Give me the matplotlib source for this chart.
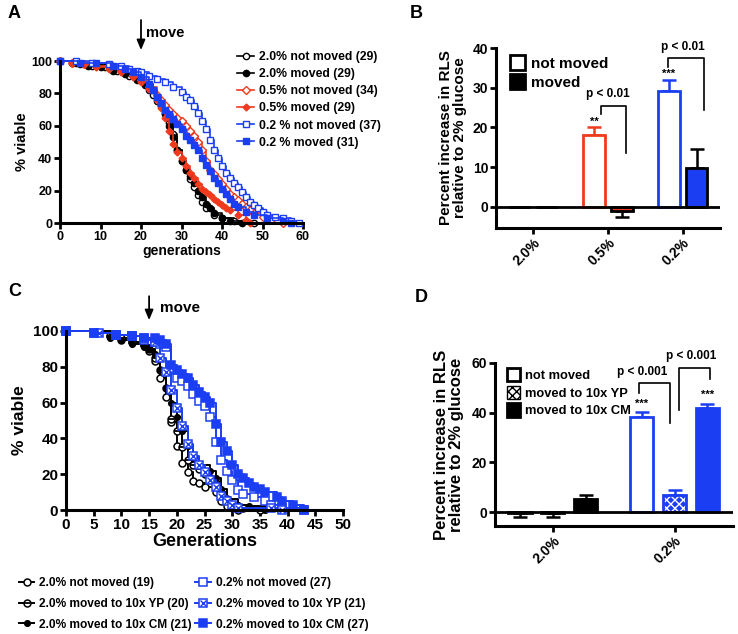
import matplotlib
matplotlib.use("Agg")
import matplotlib.pyplot as plt
from matplotlib.patches import Patch

plt.rcParams['font.family'] = ['Liberation Sans', 'DejaVu Sans']
plt.rcParams['font.weight'] = 'bold'
plt.rcParams['hatch.linewidth'] = 1.0

RED = '#F03A1E'
BLUE = '#1B3EF2'

# ---- panel A: survival, % viable vs generations ----
a_gen_20nm = [0, 3, 5, 8, 11, 14, 17, 19, 21, 22, 23, 24, 25, 26, 27, 28, 29, 30, 31, 32, 33, 34, 35, 36, 38, 40, 43, 48]
a_via_20nm = [100, 99, 98, 97, 96, 94, 91, 88, 85, 82, 79, 75, 72, 68, 62, 55, 45, 38, 33, 27, 22, 17, 13, 9, 5, 3, 1, 0]
a_gen_20m = [0, 4, 7, 10, 13, 16, 19, 21, 23, 24, 25, 26, 27, 28, 29, 30, 31, 32, 33, 34, 35, 36, 37, 38, 40, 42, 45]
a_via_20m = [100, 99, 97, 96, 94, 92, 89, 86, 82, 78, 73, 67, 60, 53, 45, 38, 33, 29, 25, 20, 16, 12, 9, 6, 3, 1, 0]
a_gen_05nm = [0, 3, 6, 9, 12, 15, 18, 20, 22, 24, 25, 26, 27, 28, 29, 30, 31, 32, 33, 34, 35, 36, 37, 38, 39, 40, 41, 42, 43, 44, 45, 46, 47, 48, 50, 52, 55]
a_via_05nm = [100, 99, 98, 97, 96, 94, 91, 88, 84, 79, 76, 73, 70, 67, 65, 63, 60, 57, 54, 50, 45, 38, 33, 30, 27, 24, 21, 18, 16, 14, 12, 10, 8, 6, 4, 2, 0]
a_gen_05m = [0, 3, 6, 9, 12, 15, 18, 20, 22, 24, 25, 26, 27, 28, 29, 30, 31, 32, 33, 34, 35, 36, 37, 38, 39, 40, 41, 42, 44, 46, 47]
a_via_05m = [100, 99, 98, 96, 95, 93, 90, 87, 83, 76, 71, 65, 57, 49, 44, 40, 35, 31, 28, 24, 21, 19, 17, 15, 13, 11, 9, 8, 5, 2, 0]
a_gen_02nm = [0, 4, 8, 12, 15, 17, 19, 20, 22, 24, 26, 28, 30, 31, 32, 33, 34, 35, 36, 37, 38, 39, 40, 41, 42, 43, 44, 45, 46, 47, 48, 49, 50, 51, 53, 55, 57, 59]
a_via_02nm = [100, 100, 99, 98, 97, 95, 94, 93, 91, 89, 87, 84, 81, 78, 76, 72, 68, 63, 58, 51, 45, 40, 35, 31, 28, 25, 22, 19, 16, 13, 11, 9, 7, 5, 4, 3, 1, 0]
a_gen_02m = [0, 5, 9, 13, 16, 18, 20, 22, 23, 24, 25, 26, 27, 28, 29, 30, 31, 32, 33, 34, 35, 36, 37, 38, 39, 40, 41, 42, 43, 44, 46, 48, 51, 55, 57]
a_via_02m = [100, 99, 99, 97, 95, 93, 90, 86, 82, 78, 74, 70, 67, 64, 61, 58, 54, 51, 48, 45, 40, 36, 32, 28, 25, 21, 18, 15, 12, 10, 7, 5, 3, 1, 0]

# ---- panel B: percent increase in RLS ----
b_groups = ['2.0%', '0.5%', '0.2%']
b_notmoved = [0, 18, 29.2]
b_notmoved_err = [0, 2, 2.7]
b_moved = [0, -1, 9.8]
b_moved_err = [0, 1.5, 4.8]
b_colors = ['black', RED, BLUE]

# ---- panel C: survival after moving ----
c_gen_20nm = [0, 8, 10, 12, 14, 15, 16, 17, 18, 19, 20, 21, 22, 23, 24, 25, 27, 28, 29, 31]
c_via_20nm = [100, 97, 95, 94, 92, 89, 83, 74, 63, 49, 36, 26, 21, 16, 15, 13, 10, 5, 2, 0]
c_gen_20yp = [0, 8, 10, 12, 14, 15, 16, 17, 18, 19, 20, 21, 22, 23, 24, 25, 26, 27, 28, 29, 30, 32, 35]
c_via_20yp = [100, 97, 96, 94, 92, 90, 85, 78, 68, 51, 44, 35, 28, 25, 23, 20, 18, 15, 10, 6, 3, 1, 0]
c_gen_20cm = [0, 8, 10, 12, 14, 15, 16, 17, 18, 19, 20, 21, 22, 23, 24, 26, 27, 28, 29, 31, 33, 36]
c_via_20cm = [100, 96, 95, 93, 91, 90, 87, 78, 68, 60, 52, 44, 36, 29, 25, 22, 18, 12, 6, 3, 2, 0]
c_gen_02nm = [0, 5, 9, 12, 14, 16, 17, 18, 19, 20, 21, 22, 23, 24, 25, 26, 27, 28, 29, 30, 31, 32, 34, 36, 37, 39, 43]
c_via_02nm = [100, 99, 98, 97, 95, 94, 93, 91, 79, 74, 72, 69, 65, 61, 58, 52, 38, 28, 22, 17, 11, 9, 7, 5, 3, 1, 0]
c_gen_02yp = [0, 6, 9, 12, 14, 16, 17, 18, 19, 20, 21, 22, 23, 24, 25, 26, 27, 28, 29, 30, 31, 37, 39]
c_via_02yp = [100, 99, 98, 97, 96, 94, 85, 77, 67, 57, 47, 37, 30, 25, 21, 17, 13, 8, 5, 3, 1, 1, 0]
c_gen_02cm = [0, 5, 9, 12, 14, 16, 17, 18, 19, 20, 21, 22, 23, 24, 25, 26, 27, 28, 29, 30, 31, 32, 33, 34, 35, 36, 38, 39, 41, 43]
c_via_02cm = [100, 99, 98, 97, 96, 96, 95, 93, 81, 78, 76, 74, 70, 66, 63, 60, 48, 38, 33, 25, 20, 18, 15, 13, 12, 10, 7, 5, 3, 0]

# ---- panel D ----
d_groups = ['2.0%', '0.2%']
d_notmoved = [-0.4, 38.3]
d_notmoved_err = [1.6, 1.8]
d_yp = [-0.4, 6.8]
d_yp_err = [1.6, 2.0]
d_cm = [5.2, 41.9]
d_cm_err = [1.7, 1.6]
d_colors = ['black', BLUE]


def prism_axes(ax, tick_size):
    for s in ['top', 'right']:
        ax.spines[s].set_visible(False)
    for s in ['left', 'bottom']:
        ax.spines[s].set_linewidth(2.2)
    ax.tick_params(width=2, length=4, labelsize=tick_size, pad=1.5)
    for lab in ax.get_xticklabels() + ax.get_yticklabels():
        lab.set_fontweight('bold')


fig = plt.figure(figsize=(7.38, 6.34), dpi=100)


def fx(px):
    return px / 738.0


def fy(py):
    return 1 - py / 634.0


# ================= A =================
axA = fig.add_axes([fx(60), fy(223), fx(243), 162 / 634.0])
kw = dict(drawstyle='steps-post', lw=1.2, ms=4.5, clip_on=False, mew=1.0)
lA = []
lA.append(axA.plot(a_gen_20nm, a_via_20nm, color='black', marker='o', mfc='white', mec='black', label='2.0% not moved (29)', **kw)[0])
lA.append(axA.plot(a_gen_20m, a_via_20m, color='black', marker='o', mfc='black', mec='black', label='2.0% moved (29)', **kw)[0])
lA.append(axA.plot(a_gen_05nm, a_via_05nm, color=RED, marker='D', mfc='white', mec=RED, label='0.5% not moved (34)', **dict(kw, ms=4))[0])
lA.append(axA.plot(a_gen_05m, a_via_05m, color=RED, marker='D', mfc=RED, mec=RED, label='0.5% moved (29)', **dict(kw, ms=3.5))[0])
lA.append(axA.plot(a_gen_02nm, a_via_02nm, color=BLUE, marker='s', mfc='white', mec=BLUE, label='0.2 % not moved (37)', **dict(kw, ms=5))[0])
lA.append(axA.plot(a_gen_02m, a_via_02m, color=BLUE, marker='s', mfc=BLUE, mec=BLUE, label='0.2 % moved (31)', **dict(kw, ms=5))[0])
axA.set_xlim(0, 60)
axA.set_ylim(0, 100)
axA.set_xticks(range(0, 61, 10))
axA.set_yticks(range(0, 101, 20))
prism_axes(axA, 9)
axA.set_xlabel('generations', fontsize=10, fontweight='bold', labelpad=1)
axA.set_ylabel('% viable', fontsize=10.5, fontweight='bold', labelpad=2)
axA.annotate('', xy=(20, 105), xytext=(20, 127), xycoords='data',
             arrowprops=dict(arrowstyle='-|>,head_width=0.25,head_length=0.6', color='black', lw=1.3),
             annotation_clip=False)
axA.text(21.3, 117, 'move', fontsize=10.5, fontweight='bold', va='center', ha='left')
fig.legend(handles=lA, loc='upper left', bbox_to_anchor=(fx(226), fy(40)), frameon=False,
           handlelength=1.4, handletextpad=0.4, labelspacing=0.42,
           prop={'weight': 'bold', 'size': 8.8})

# ================= B =================
axB = fig.add_axes([fx(496), fy(228), fx(224), 180 / 634.0])
xs = range(len(b_groups))
w, off = 0.29, 0.187
for i in xs:
    c = b_colors[i]
    axB.bar(i - off, b_notmoved[i], w, facecolor='white', edgecolor=c, lw=2, zorder=3)
    if b_notmoved_err[i] > 0:
        axB.errorbar(i - off, b_notmoved[i], yerr=[[0], [b_notmoved_err[i]]], fmt='none',
                     ecolor=c, elinewidth=1.8, capsize=5, capthick=1.8, zorder=2)
    axB.bar(i + off, b_moved[i], w, facecolor=c, edgecolor='black', lw=2, zorder=3)
    if b_moved_err[i] > 0:
        lo, hi = ([b_moved_err[i]], [0]) if b_moved[i] < 0 else ([0], [b_moved_err[i]])
        axB.errorbar(i + off, b_moved[i], yerr=[lo, hi], fmt='none',
                     ecolor='black', elinewidth=1.8, capsize=5, capthick=1.8, zorder=2)
axB.axhline(0, color='black', lw=2, zorder=4)
axB.set_xlim(-0.5, 2.5)
axB.set_ylim(-5.3, 40)
axB.set_yticks(range(0, 41, 10))
axB.set_xticks(list(xs))
axB.set_xticklabels(b_groups, rotation=45, ha='right', rotation_mode='anchor')
prism_axes(axB, 10)
axB.set_ylabel('Percent increase in RLS\nrelative to 2% glucose', fontsize=11, fontweight='bold', labelpad=4, linespacing=1.0)
# significance
axB.text(1 - off, 21.5, '**', ha='center', va='center', fontsize=8, fontweight='bold')
axB.text(2 - off, 33.5, '***', ha='center', va='center', fontsize=8, fontweight='bold')
axB.plot([1 - 0.1, 1 - 0.1, 1 + 0.24, 1 + 0.24], [23.5, 25.4, 25.4, 13.6], color='black', lw=1.2)
axB.text(1.0, 26.8, 'p < 0.01', ha='center', va='bottom', fontsize=8.5, fontweight='bold')
axB.plot([2 - 0.19, 2 - 0.19, 2 + 0.28, 2 + 0.28], [35.2, 37.4, 37.4, 24.4], color='black', lw=1.2)
axB.text(2.0, 38.8, 'p < 0.01', ha='center', va='bottom', fontsize=8.5, fontweight='bold')
hB = [Patch(facecolor='white', edgecolor='black', lw=2, label='not moved'),
      Patch(facecolor='black', edgecolor='black', lw=2, label='moved')]
axB.legend(handles=hB, loc='upper left', bbox_to_anchor=(0.0, 1.04), frameon=False,
           handlelength=1.0, handleheight=1.2, handletextpad=0.4, labelspacing=0.2,
           prop={'weight': 'bold', 'size': 11})

# ================= C =================
axC = fig.add_axes([fx(66), fy(510), fx(277), 179 / 634.0])
kc = dict(drawstyle='steps-post', lw=1.4, ms=5, clip_on=False, mew=1.1)
l1 = axC.plot(c_gen_20nm, c_via_20nm, color='black', marker='o', mfc='white', mec='black', **kc)[0]
l2 = axC.plot(c_gen_20yp, c_via_20yp, color='black', marker='o', mfc='white', mec='black', **kc)[0]
l2b = axC.plot(c_gen_20yp, c_via_20yp, ls='none', marker='_', ms=5, mec='black', mew=1.3, clip_on=False)[0]
l3 = axC.plot(c_gen_20cm, c_via_20cm, color='black', marker='o', mfc='black', mec='black', **dict(kc, ms=4))[0]
l4 = axC.plot(c_gen_02nm, c_via_02nm, color=BLUE, marker='s', mfc='white', mec=BLUE, **dict(kc, ms=6))[0]
l5 = axC.plot(c_gen_02yp, c_via_02yp, color=BLUE, marker='s', mfc='white', mec=BLUE, **dict(kc, ms=6))[0]
l5b = axC.plot(c_gen_02yp, c_via_02yp, ls='none', marker='x', ms=4, mec=BLUE, mew=1.0, clip_on=False)[0]
l6 = axC.plot(c_gen_02cm, c_via_02cm, color=BLUE, marker='s', mfc=BLUE, mec=BLUE, **dict(kc, ms=6))[0]
axC.set_xlim(0, 50)
axC.set_ylim(0, 100)
axC.set_xticks(range(0, 51, 5))
axC.set_yticks(range(0, 101, 20))
prism_axes(axC, 11)
axC.set_xlabel('Generations', fontsize=13, fontweight='bold', labelpad=1)
axC.set_ylabel('% viable', fontsize=12.5, fontweight='bold', labelpad=4)
axC.annotate('', xy=(15, 104.5), xytext=(15, 121), xycoords='data',
             arrowprops=dict(arrowstyle='-|>,head_width=0.25,head_length=0.6', color='black', lw=1.3),
             annotation_clip=False)
axC.text(17, 113, 'move', fontsize=11, fontweight='bold', va='center', ha='left')
hC = [l1, (l2, l2b), l3, l4, (l5, l5b), l6]
labC = ['2.0% not moved (19)', '2.0% moved to 10x YP (20)', '2.0% moved to 10x CM (21)',
        '0.2% not moved (27)', '0.2% moved to 10x YP (21)', '0.2% moved to 10x CM (27)']
fig.legend(handles=hC, labels=labC, ncol=2, loc='upper left', bbox_to_anchor=(fx(8), fy(566)),
           frameon=False, handlelength=1.3, handletextpad=0.4, labelspacing=0.75, columnspacing=0.3,
           prop={'weight': 'bold', 'size': 8.6})

# ================= D =================
axD = fig.add_axes([fx(495), fy(526), fx(238), 163 / 634.0])
wd, offd = 0.19, 0.27
for i in range(len(d_groups)):
    c = d_colors[i]
    ec = 'black' if i == 0 else BLUE
    # not moved
    axD.bar(i - offd, d_notmoved[i], wd, facecolor='white', edgecolor=ec, lw=2, zorder=3)
    # moved to YP (checker pattern)
    axD.bar(i, d_yp[i], wd, facecolor=c, edgecolor='white', lw=0, hatch='xxxx', zorder=3)
    axD.bar(i, d_yp[i], wd, facecolor='none', edgecolor=ec, lw=2, zorder=3)
    # moved to CM
    axD.bar(i + offd, d_cm[i], wd, facecolor=c, edgecolor=ec, lw=2, zorder=3)
    for xx, v, e in [(i - offd, d_notmoved[i], d_notmoved_err[i]), (i, d_yp[i], d_yp_err[i]),
                     (i + offd, d_cm[i], d_cm_err[i])]:
        lo, hi = ([e], [0]) if v < 0 else ([0], [e])
        axD.errorbar(xx, v, yerr=[lo, hi], fmt='none', ecolor=ec, elinewidth=1.8,
                     capsize=5, capthick=1.8, zorder=2)
axD.axhline(0, color='black', lw=2, zorder=4)
axD.set_xlim(-0.475, 1.48)
axD.set_ylim(-5.6, 60)
axD.set_yticks(range(0, 61, 20))
axD.set_xticks(range(len(d_groups)))
axD.set_xticklabels(d_groups, rotation=45, ha='right', rotation_mode='anchor')
prism_axes(axD, 10)
axD.set_ylabel('Percent increase in RLS\nrelative to 2% glucose', fontsize=12, fontweight='bold', labelpad=6, linespacing=1.0)
axD.text(1 - offd, 43.5, '***', ha='center', va='center', fontsize=8, fontweight='bold')
axD.text(1 + offd, 47.3, '***', ha='center', va='center', fontsize=8, fontweight='bold')
axD.plot([1 - 0.29, 1 - 0.29, 1 - 0.04, 1 - 0.04], [48, 52, 52, 36], color='black', lw=1.2)
axD.text(1 - 0.27, 54, 'p < 0.001', ha='center', va='bottom', fontsize=8.5, fontweight='bold')
axD.plot([1 + 0.04, 1 + 0.04, 1 + 0.29, 1 + 0.29], [41, 58, 58, 53.5], color='black', lw=1.2)
axD.text(1 + 0.14, 60.5, 'p < 0.001', ha='center', va='bottom', fontsize=8.5, fontweight='bold')
hD = [Patch(facecolor='white', edgecolor='black', lw=2, label='not moved'),
      Patch(facecolor='white', edgecolor='black', lw=1, hatch='xxxx', label='moved to 10x YP'),
      Patch(facecolor='black', edgecolor='black', lw=2, label='moved to 10x CM')]
axD.legend(handles=hD, loc='upper left', bbox_to_anchor=(0.0, 1.04), frameon=False,
           handlelength=1.0, handleheight=1.2, handletextpad=0.4, labelspacing=0.28,
           prop={'weight': 'bold', 'size': 9.3})

# panel letters
for lab, x, y in [('A', 8, 18), ('B', 410, 18), ('C', 8, 296), ('D', 415, 302)]:
    fig.text(fx(x), fy(y), lab, fontsize=13, fontweight='bold', ha='left', va='baseline')

fig.savefig('out.png', dpi=100)
